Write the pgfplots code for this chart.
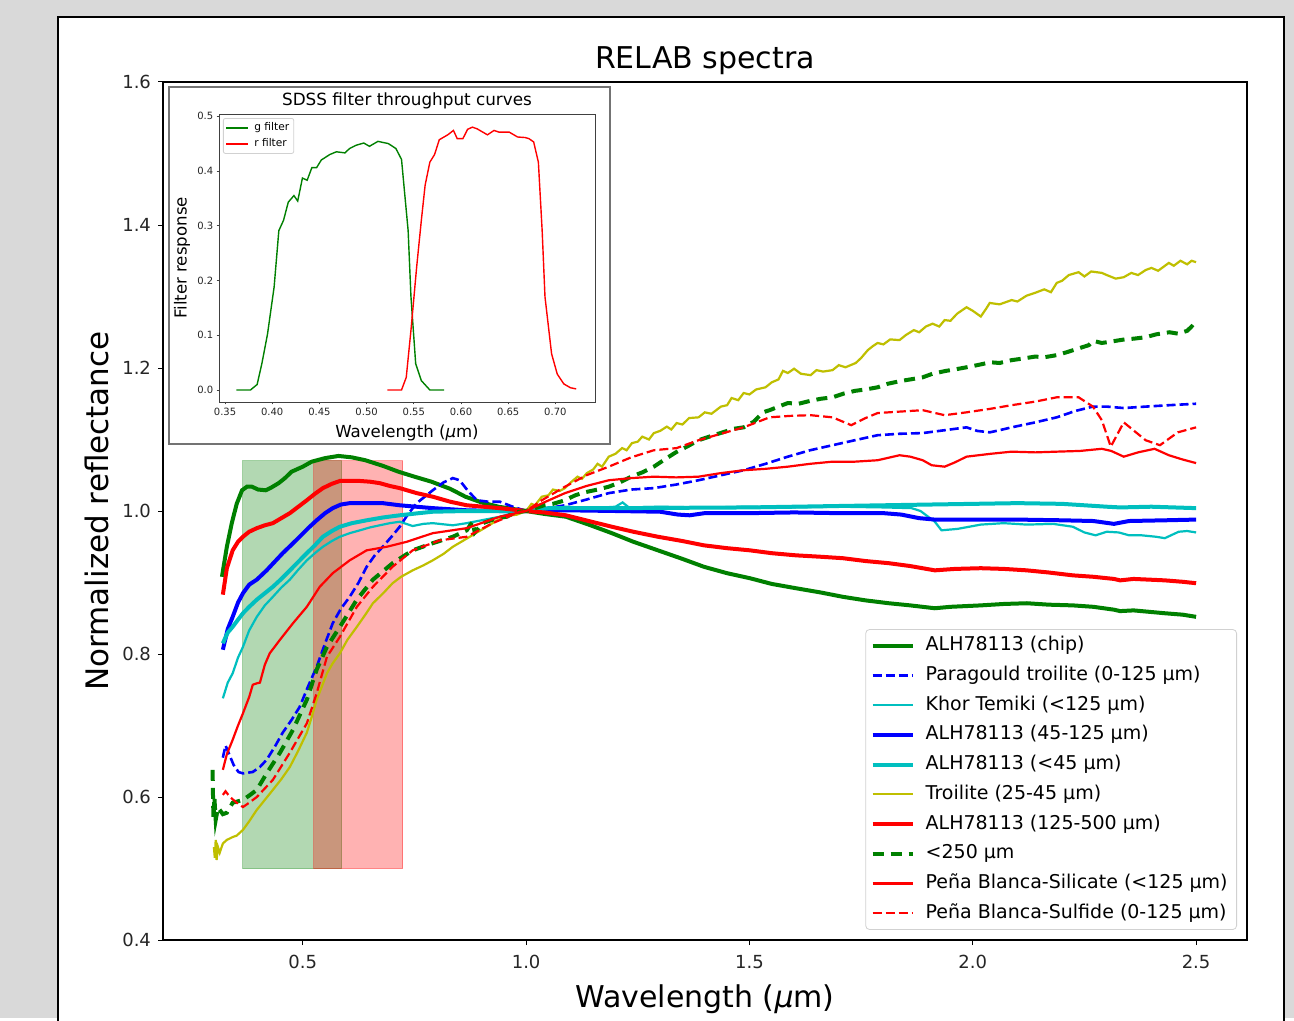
\documentclass[border=0pt]{standalone}
\usepackage{pgfplots}
\pgfplotsset{compat=1.18}
\usepackage{fontspec}
\setmainfont{DejaVu Sans}
\definecolor{mplg}{rgb}{0,0.5,0}
\definecolor{mplc}{rgb}{0,0.75,0.75}
\definecolor{mply}{rgb}{0.75,0.75,0}
\definecolor{bggray}{RGB}{217,217,217}
\begin{document}
\begin{tikzpicture}
\begin{scope}[x=0.5pt,y=0.5pt]
\path[use as bounding box] (0,0) rectangle (1294,1018);
\fill[bggray] (0,0) rectangle (1294,1018);
\draw[line width=1pt, fill=white] (58,-10) rectangle (1284,1001);
\end{scope}
\begin{axis}[
  at={(81.5pt,39pt)}, anchor=south west,
  width=542pt, height=429pt, scale only axis,
  xmin=0.187, xmax=2.614, ymin=0.4, ymax=1.6,
  xtick={0.5,1,1.5,2,2.5}, ytick={0.4,0.6,0.8,1.0,1.2,1.4,1.6},
  xtick pos=left, ytick pos=left, tick align=outside,
  major tick length=2.5pt,
  tick style={line width=0.5pt, black},
  axis line style={line width=0.8pt},
  /pgf/number format/assume math mode=true,
  xticklabel style={/pgf/number format/.cd, fixed, fixed zerofill, precision=1, /tikz/.cd, yshift=-1.5pt},
  yticklabel style={/pgf/number format/.cd, fixed, fixed zerofill, precision=1},
  tick label style={font=\fontsize{9}{10}\selectfont, text=black!85},
  title={RELAB spectra},
  title style={font=\fontsize{15}{17}\selectfont, at={(axis description cs:0.5,1.011)}, anchor=center, yshift=0pt},
  xlabel={Wavelength (\textit{μ}m)},
  xlabel style={font=\fontsize{15}{17}\selectfont, at={(axis description cs:0.5,-0.069)}, anchor=center},
  ylabel={Normalized reflectance},
  ylabel style={font=\fontsize{15.5}{17}\selectfont, at={(axis description cs:-0.0609,0.5)}, anchor=center, rotate=0},
  legend style={at={(0.9908,0.0117)}, anchor=south east, draw=black!18, rounded corners=2pt,
    font=\fontsize{9.5}{11}\selectfont, inner xsep=2.5pt, inner ysep=2pt,
    nodes={inner xsep=2pt, inner ysep=1.5pt, text height=7.2pt, text depth=2.2pt},
    row sep=2.45pt},
  legend cell align=left,
  legend image code/.code={\draw[#1] (0pt,0pt) -- (20pt,0pt); \path (23.5pt,0pt);},
]
% shaded filter bands
\addplot[forget plot, draw=mplg, draw opacity=0.35, line width=0.5pt, fill=mplg, fill opacity=0.3]
  coordinates {(0.366,0.5) (0.366,1.07) (0.587,1.07) (0.587,0.5) (0.366,0.5)};
\addplot[forget plot, draw=red, draw opacity=0.35, line width=0.5pt, fill=red, fill opacity=0.3]
  coordinates {(0.525,0.5) (0.525,1.07) (0.724,1.07) (0.724,0.5) (0.525,0.5)};

% ALH78113 (chip)
\addplot[mplg, line width=2pt] coordinates {
(0.319,0.908) (0.330,0.950) (0.341,0.983) (0.352,1.010) (0.364,1.029) (0.375,1.034) (0.386,1.034) (0.400,1.030) (0.417,1.029) (0.430,1.033) (0.446,1.039) (0.460,1.046) (0.475,1.055) (0.500,1.062) (0.520,1.069) (0.550,1.074) (0.580,1.077) (0.610,1.075) (0.640,1.071) (0.680,1.063) (0.714,1.055) (0.750,1.048) (0.788,1.041) (0.830,1.031) (0.864,1.020) (0.900,1.012) (0.938,1.006) (1.0,1.0)
(1.040,0.996) (1.089,0.992) (1.14,0.981) (1.192,0.969) (1.24,0.957) (1.295,0.945) (1.35,0.933) (1.398,0.922) (1.45,0.913) (1.501,0.906) (1.55,0.898) (1.604,0.892) (1.66,0.886) (1.709,0.880) (1.76,0.875) (1.812,0.871) (1.86,0.868) (1.915,0.864) (1.95,0.866) (2.018,0.868) (2.07,0.870) (2.121,0.871) (2.17,0.869) (2.224,0.868) (2.27,0.866) (2.316,0.862) (2.33,0.860) (2.36,0.861) (2.430,0.857) (2.47,0.855) (2.5,0.852)};
\addlegendentry{ALH78113 (chip)}

% Paragould troilite (0-125 um)
\addplot[blue, line width=1.3pt, dash pattern=on 4.5pt off 2pt] coordinates {
(0.321,0.655) (0.327,0.672) (0.335,0.660) (0.345,0.645) (0.356,0.635) (0.366,0.633) (0.388,0.635) (0.404,0.642) (0.419,0.652) (0.437,0.670) (0.455,0.690) (0.475,0.708) (0.493,0.726) (0.512,0.755) (0.531,0.782) (0.550,0.815) (0.567,0.843) (0.585,0.863) (0.605,0.880) (0.625,0.900) (0.643,0.922) (0.660,0.937) (0.679,0.950) (0.700,0.965) (0.717,0.978) (0.735,0.995) (0.755,1.011) (0.775,1.021) (0.791,1.029) (0.815,1.040) (0.836,1.046) (0.851,1.043) (0.870,1.028) (0.890,1.015) (0.915,1.013) (0.941,1.013) (0.970,1.006) (1.0,1.0)
(1.040,1.003) (1.087,1.008) (1.135,1.016) (1.185,1.025) (1.235,1.030) (1.286,1.032) (1.336,1.037) (1.386,1.043) (1.436,1.050) (1.487,1.057) (1.536,1.066) (1.586,1.076) (1.636,1.085) (1.686,1.092) (1.736,1.099) (1.787,1.106) (1.836,1.108) (1.888,1.109) (1.937,1.113) (1.986,1.117) (2.010,1.112) (2.038,1.110) (2.060,1.113) (2.087,1.117) (2.14,1.124) (2.188,1.131) (2.23,1.140) (2.269,1.146) (2.30,1.146) (2.338,1.144) (2.387,1.146) (2.44,1.148) (2.5,1.150)};
\addlegendentry{Paragould troilite (0-125 µm)}

% Khor Temiki (<125 um)
\addplot[mplc, line width=1.1pt] coordinates {
(0.321,0.738) (0.332,0.760) (0.343,0.773) (0.355,0.795) (0.366,0.810) (0.380,0.833) (0.397,0.852) (0.415,0.868) (0.433,0.880) (0.452,0.893) (0.471,0.904) (0.490,0.918) (0.509,0.931) (0.527,0.941) (0.545,0.950) (0.565,0.958) (0.583,0.964) (0.605,0.969) (0.628,0.973) (0.650,0.977) (0.672,0.980) (0.695,0.983) (0.717,0.985) (0.746,0.979) (0.770,0.982) (0.791,0.983) (0.836,0.980) (0.867,0.983) (0.900,0.987) (0.941,0.992) (0.970,0.997) (1.0,1.0)
(1.05,1.003) (1.09,1.006) (1.15,1.004) (1.20,1.006) (1.216,1.012) (1.23,1.005) (1.30,1.006) (1.40,1.005) (1.50,1.006) (1.60,1.005) (1.70,1.006) (1.80,1.005) (1.863,1.004) (1.883,1.000) (1.915,0.985) (1.930,0.973) (1.966,0.975) (2.018,0.981) (2.069,0.983) (2.121,0.981) (2.18,0.982) (2.224,0.978) (2.250,0.970) (2.275,0.966) (2.300,0.971) (2.327,0.970) (2.350,0.966) (2.378,0.966) (2.410,0.964) (2.430,0.962) (2.461,0.971) (2.48,0.972) (2.5,0.970)};
\addlegendentry{Khor Temiki (<125 µm)}

% ALH78113 (45-125 um)
\addplot[blue, line width=2pt] coordinates {
(0.321,0.806) (0.332,0.835) (0.343,0.852) (0.355,0.872) (0.366,0.885) (0.380,0.897) (0.397,0.904) (0.419,0.917) (0.437,0.929) (0.455,0.941) (0.475,0.953) (0.493,0.964) (0.512,0.976) (0.531,0.987) (0.550,0.997) (0.567,1.004) (0.585,1.009) (0.605,1.011) (0.643,1.011) (0.679,1.011) (0.717,1.008) (0.791,1.004) (0.867,1.001) (0.940,1.000) (1.0,1.0)
(1.089,1.001) (1.20,1.000) (1.300,0.999) (1.340,0.995) (1.366,0.994) (1.40,0.997) (1.50,0.997) (1.60,0.998) (1.70,0.997) (1.80,0.997) (1.840,0.995) (1.880,0.990) (1.915,0.988) (2.0,0.988) (2.10,0.988) (2.20,0.987) (2.27,0.986) (2.316,0.982) (2.35,0.986) (2.43,0.987) (2.5,0.988)};
\addlegendentry{ALH78113 (45-125 µm)}

% ALH78113 (<45 um)
\addplot[mplc, line width=2pt] coordinates {
(0.321,0.815) (0.332,0.830) (0.343,0.838) (0.355,0.848) (0.366,0.857) (0.380,0.866) (0.397,0.876) (0.415,0.885) (0.433,0.894) (0.452,0.905) (0.471,0.917) (0.490,0.929) (0.509,0.941) (0.527,0.952) (0.545,0.964) (0.565,0.972) (0.583,0.978) (0.610,0.983) (0.643,0.987) (0.680,0.991) (0.717,0.994) (0.760,0.997) (0.791,0.999) (0.867,1.000) (1.0,1.0)
(1.05,1.004) (1.20,1.004) (1.50,1.005) (1.80,1.008) (2.00,1.010) (2.10,1.011) (2.20,1.010) (2.30,1.006) (2.33,1.005) (2.40,1.006) (2.5,1.004)};
\addlegendentry{ALH78113 (<45 µm)}

% Troilite (25-45 um)
\addplot[mply, line width=1.1pt] coordinates {
(0.301,0.530) (0.303,0.515) (0.305,0.540) (0.307,0.512) (0.310,0.530) (0.314,0.522) (0.321,0.535) (0.330,0.540) (0.343,0.544) (0.352,0.546) (0.366,0.554) (0.380,0.566) (0.397,0.582) (0.415,0.596) (0.433,0.610) (0.452,0.625) (0.471,0.642) (0.490,0.665) (0.509,0.690) (0.520,0.712) (0.531,0.736) (0.543,0.755) (0.554,0.773) (0.567,0.787) (0.583,0.801) (0.600,0.820) (0.621,0.838) (0.640,0.855) (0.657,0.871) (0.680,0.885) (0.701,0.899) (0.720,0.908) (0.746,0.917) (0.770,0.924) (0.791,0.931) (0.815,0.940) (0.836,0.950) (0.855,0.957) (0.874,0.964) (0.890,0.970) (0.912,0.978) (0.935,0.987) (0.957,0.993) (0.980,0.995) (1.0,1.000)
(1.012,1.010) (1.020,1.008) (1.035,1.020) (1.05,1.022) (1.06,1.030) (1.075,1.028) (1.087,1.032) (1.10,1.040) (1.115,1.048) (1.125,1.045) (1.136,1.053) (1.15,1.058) (1.16,1.066) (1.17,1.062) (1.185,1.076) (1.20,1.080) (1.215,1.088) (1.225,1.085) (1.237,1.095) (1.25,1.097) (1.26,1.104) (1.275,1.100) (1.286,1.109) (1.30,1.112) (1.315,1.118) (1.325,1.114) (1.337,1.123) (1.35,1.121) (1.365,1.130) (1.386,1.131) (1.40,1.138) (1.415,1.136) (1.436,1.146) (1.45,1.148) (1.46,1.158) (1.475,1.155) (1.487,1.165) (1.50,1.163) (1.515,1.170) (1.536,1.173) (1.55,1.180) (1.565,1.184) (1.575,1.196) (1.586,1.193) (1.60,1.199) (1.615,1.192) (1.637,1.190) (1.65,1.197) (1.665,1.195) (1.686,1.197) (1.70,1.204) (1.715,1.201) (1.738,1.207) (1.75,1.214) (1.765,1.225) (1.775,1.230) (1.787,1.235) (1.80,1.233) (1.815,1.240) (1.836,1.239) (1.85,1.246) (1.868,1.253) (1.88,1.250) (1.895,1.258) (1.91,1.262) (1.925,1.258) (1.937,1.267) (1.95,1.266) (1.965,1.276) (1.986,1.285) (2.0,1.280) (2.018,1.272) (2.03,1.283) (2.038,1.291) (2.06,1.289) (2.087,1.295) (2.10,1.293) (2.12,1.301) (2.139,1.305) (2.16,1.310) (2.175,1.306) (2.188,1.319) (2.20,1.322) (2.215,1.330) (2.237,1.334) (2.25,1.328) (2.265,1.335) (2.289,1.333) (2.30,1.330) (2.32,1.325) (2.338,1.327) (2.355,1.333) (2.37,1.330) (2.387,1.337) (2.40,1.340) (2.415,1.336) (2.439,1.347) (2.45,1.343) (2.465,1.350) (2.48,1.345) (2.49,1.350) (2.5,1.348)};
\addlegendentry{Troilite (25-45 µm)}

% ALH78113 (125-500 um)
\addplot[red, line width=2pt] coordinates {
(0.321,0.883) (0.330,0.920) (0.343,0.945) (0.355,0.957) (0.366,0.964) (0.380,0.971) (0.397,0.976) (0.415,0.980) (0.433,0.983) (0.452,0.990) (0.471,0.997) (0.490,1.006) (0.509,1.015) (0.527,1.024) (0.545,1.032) (0.565,1.038) (0.583,1.042) (0.605,1.042) (0.628,1.042) (0.650,1.041) (0.672,1.039) (0.695,1.035) (0.717,1.032) (0.755,1.025) (0.791,1.020) (0.830,1.013) (0.867,1.008) (0.941,1.004) (1.0,1.0)
(1.040,0.998) (1.089,0.994) (1.14,0.986) (1.192,0.978) (1.24,0.971) (1.295,0.964) (1.35,0.958) (1.398,0.952) (1.45,0.948) (1.501,0.945) (1.55,0.941) (1.604,0.938) (1.66,0.936) (1.709,0.934) (1.76,0.930) (1.812,0.927) (1.86,0.923) (1.915,0.917) (1.96,0.919) (2.018,0.920) (2.07,0.919) (2.121,0.917) (2.17,0.914) (2.224,0.910) (2.27,0.908) (2.316,0.905) (2.33,0.903) (2.36,0.905) (2.430,0.903) (2.47,0.901) (2.5,0.899)};
\addlegendentry{ALH78113 (125-500 µm)}

% <250 um
\addplot[mplg, line width=2pt, dash pattern=on 5.5pt off 3.5pt] coordinates {
(0.298,0.638) (0.299,0.600) (0.300,0.570) (0.302,0.600) (0.305,0.568) (0.310,0.585) (0.314,0.582) (0.321,0.576) (0.330,0.578) (0.343,0.592) (0.355,0.594) (0.366,0.596) (0.380,0.602) (0.397,0.610) (0.419,0.633) (0.449,0.662) (0.478,0.694) (0.509,0.736) (0.531,0.778) (0.554,0.810) (0.583,0.838) (0.621,0.876) (0.657,0.904) (0.701,0.927) (0.746,0.945) (0.791,0.955) (0.836,0.964) (0.867,0.973) (0.880,0.985) (0.885,0.970) (0.903,0.983) (0.935,0.990) (0.957,0.992) (0.975,0.998) (1.0,1.0)
(1.02,1.004) (1.04,1.008) (1.06,1.010) (1.087,1.015) (1.11,1.022) (1.13,1.026) (1.16,1.030) (1.185,1.034) (1.21,1.040) (1.235,1.048) (1.26,1.054) (1.286,1.062) (1.31,1.072) (1.335,1.082) (1.36,1.090) (1.386,1.099) (1.41,1.104) (1.44,1.110) (1.465,1.115) (1.487,1.117) (1.51,1.125) (1.53,1.138) (1.545,1.141) (1.565,1.146) (1.586,1.151) (1.61,1.150) (1.636,1.154) (1.66,1.157) (1.686,1.159) (1.71,1.164) (1.736,1.168) (1.76,1.170) (1.787,1.173) (1.81,1.178) (1.84,1.182) (1.86,1.184) (1.888,1.187) (1.91,1.192) (1.94,1.196) (1.96,1.198) (1.986,1.201) (2.01,1.204) (2.04,1.208) (2.06,1.207) (2.087,1.211) (2.11,1.213) (2.14,1.216) (2.16,1.215) (2.188,1.218) (2.21,1.222) (2.24,1.228) (2.26,1.232) (2.27,1.238) (2.289,1.235) (2.31,1.237) (2.34,1.240) (2.36,1.241) (2.387,1.243) (2.41,1.247) (2.44,1.250) (2.46,1.248) (2.48,1.252) (2.49,1.258) (2.5,1.253)};
\addlegendentry{<250 µm}

% Pena Blanca-Silicate (<125 um)
\addplot[red, line width=1.1pt] coordinates {
(0.321,0.638) (0.330,0.660) (0.343,0.680) (0.355,0.700) (0.366,0.717) (0.380,0.740) (0.388,0.757) (0.397,0.759) (0.404,0.760) (0.415,0.785) (0.426,0.801) (0.449,0.820) (0.478,0.843) (0.509,0.866) (0.538,0.894) (0.567,0.913) (0.605,0.931) (0.643,0.945) (0.688,0.950) (0.733,0.957) (0.791,0.969) (0.867,0.976) (0.941,0.992) (1.0,1.0)
(1.040,1.012) (1.087,1.025) (1.135,1.035) (1.185,1.043) (1.235,1.046) (1.286,1.048) (1.336,1.047) (1.386,1.048) (1.436,1.053) (1.487,1.057) (1.536,1.059) (1.586,1.062) (1.636,1.066) (1.686,1.069) (1.736,1.069) (1.787,1.071) (1.836,1.078) (1.860,1.076) (1.888,1.071) (1.908,1.064) (1.937,1.062) (1.960,1.068) (1.986,1.076) (2.040,1.080) (2.087,1.083) (2.140,1.082) (2.188,1.083) (2.240,1.084) (2.289,1.087) (2.310,1.084) (2.338,1.076) (2.370,1.082) (2.407,1.087) (2.439,1.078) (2.470,1.072) (2.5,1.067)};
\addlegendentry{Peña Blanca-Silicate (<125 µm)}

% Pena Blanca-Sulfide (0-125 um)
\addplot[red, line width=1.1pt, dash pattern=on 4.5pt off 2pt] coordinates {
(0.321,0.603) (0.327,0.608) (0.337,0.600) (0.352,0.592) (0.366,0.586) (0.380,0.592) (0.397,0.600) (0.433,0.624) (0.471,0.662) (0.509,0.703) (0.531,0.745) (0.554,0.796) (0.583,0.824) (0.621,0.866) (0.657,0.894) (0.701,0.922) (0.746,0.945) (0.807,0.959) (0.867,0.964) (0.925,0.983) (0.986,0.999) (1.0,1.0)
(1.035,1.015) (1.087,1.034) (1.135,1.050) (1.185,1.062) (1.235,1.075) (1.286,1.085) (1.337,1.088) (1.386,1.099) (1.436,1.108) (1.487,1.117) (1.545,1.131) (1.590,1.133) (1.637,1.134) (1.686,1.131) (1.728,1.120) (1.760,1.130) (1.787,1.137) (1.836,1.139) (1.888,1.141) (1.937,1.134) (1.986,1.138) (2.040,1.143) (2.087,1.148) (2.140,1.153) (2.188,1.159) (2.237,1.159) (2.269,1.146) (2.289,1.127) (2.309,1.090) (2.338,1.124) (2.387,1.099) (2.419,1.092) (2.459,1.110) (2.5,1.117)};
\addlegendentry{Peña Blanca-Sulfide (0-125 µm)}
\end{axis}

% inset frame
\begin{scope}[x=0.5pt,y=0.5pt]
\draw[black!55, line width=1pt, fill=white] (169,574) rectangle (610,931);
\end{scope}
\begin{axis}[
  at={(109.5pt,308pt)}, anchor=south west,
  width=188pt, height=144pt, scale only axis,
  xmin=0.3436, xmax=0.742, ymin=-0.022, ymax=0.504,
  xtick={0.35,0.40,0.45,0.50,0.55,0.60,0.65,0.70},
  ytick={0,0.1,0.2,0.3,0.4,0.5},
  xtick pos=left, ytick pos=left, tick align=outside,
  major tick length=1.2pt,
  tick style={line width=0.4pt, black!75},
  axis line style={line width=0.5pt, black!75},
  /pgf/number format/assume math mode=true,
  xticklabel style={/pgf/number format/.cd, fixed, fixed zerofill, precision=2},
  yticklabel style={/pgf/number format/.cd, fixed, fixed zerofill, precision=1},
  tick label style={font=\fontsize{5}{6}\selectfont, text=black!85, inner sep=1.5pt},
  title={SDSS filter throughput curves},
  title style={font=\fontsize{8.4}{10}\selectfont, at={(axis description cs:0.5,1.004)}, anchor=center, yshift=0pt},
  xlabel={Wavelength (\textit{μ}m)},
  xlabel style={font=\fontsize{8.3}{10}\selectfont, at={(axis description cs:0.5,-0.108)}, anchor=center},
  ylabel={Filter response},
  ylabel style={font=\fontsize{8.3}{10}\selectfont, at={(axis description cs:-0.098,0.5)}, anchor=center},
  legend style={at={(0.0106,0.986)}, anchor=north west, draw=black!18, rounded corners=1pt,
    font=\fontsize{5.3}{6}\selectfont, inner xsep=1pt, inner ysep=1.25pt,
    nodes={inner xsep=1.3pt, inner ysep=0.9pt, text height=4pt, text depth=1.2pt},
    row sep=1pt},
  legend cell align=left,
  legend image code/.code={\draw[#1] (0pt,0pt) -- (11pt,0pt); \path (12.5pt,0pt);},
]
\addplot[mplg, line width=0.7pt] coordinates {
(0.362,0) (0.377,0) (0.384,0.010) (0.389,0.048) (0.395,0.102) (0.402,0.188) (0.407,0.291) (0.412,0.310) (0.417,0.343) (0.423,0.355) (0.427,0.345) (0.432,0.387) (0.437,0.383) (0.442,0.406) (0.447,0.406) (0.452,0.420) (0.461,0.430) (0.468,0.435) (0.477,0.433) (0.482,0.441) (0.489,0.447) (0.497,0.451) (0.503,0.445) (0.512,0.454) (0.523,0.450) (0.531,0.441) (0.537,0.421) (0.540,0.365) (0.544,0.291) (0.547,0.170) (0.552,0.048) (0.558,0.017) (0.567,0) (0.582,0)};
\addlegendentry{g filter}
\addplot[red, line width=0.7pt] coordinates {
(0.522,0) (0.537,0) (0.542,0.023) (0.547,0.109) (0.553,0.224) (0.558,0.310) (0.562,0.374) (0.567,0.416) (0.572,0.430) (0.577,0.457) (0.586,0.466) (0.592,0.474) (0.596,0.459) (0.602,0.459) (0.607,0.476) (0.612,0.480) (0.617,0.477) (0.628,0.466) (0.635,0.474) (0.640,0.471) (0.651,0.471) (0.660,0.462) (0.668,0.461) (0.672,0.459) (0.677,0.453) (0.682,0.416) (0.686,0.291) (0.689,0.170) (0.696,0.066) (0.702,0.029) (0.709,0.011) (0.716,0.004) (0.722,0.002)};
\addlegendentry{r filter}
\end{axis}
\end{tikzpicture}
\end{document}
